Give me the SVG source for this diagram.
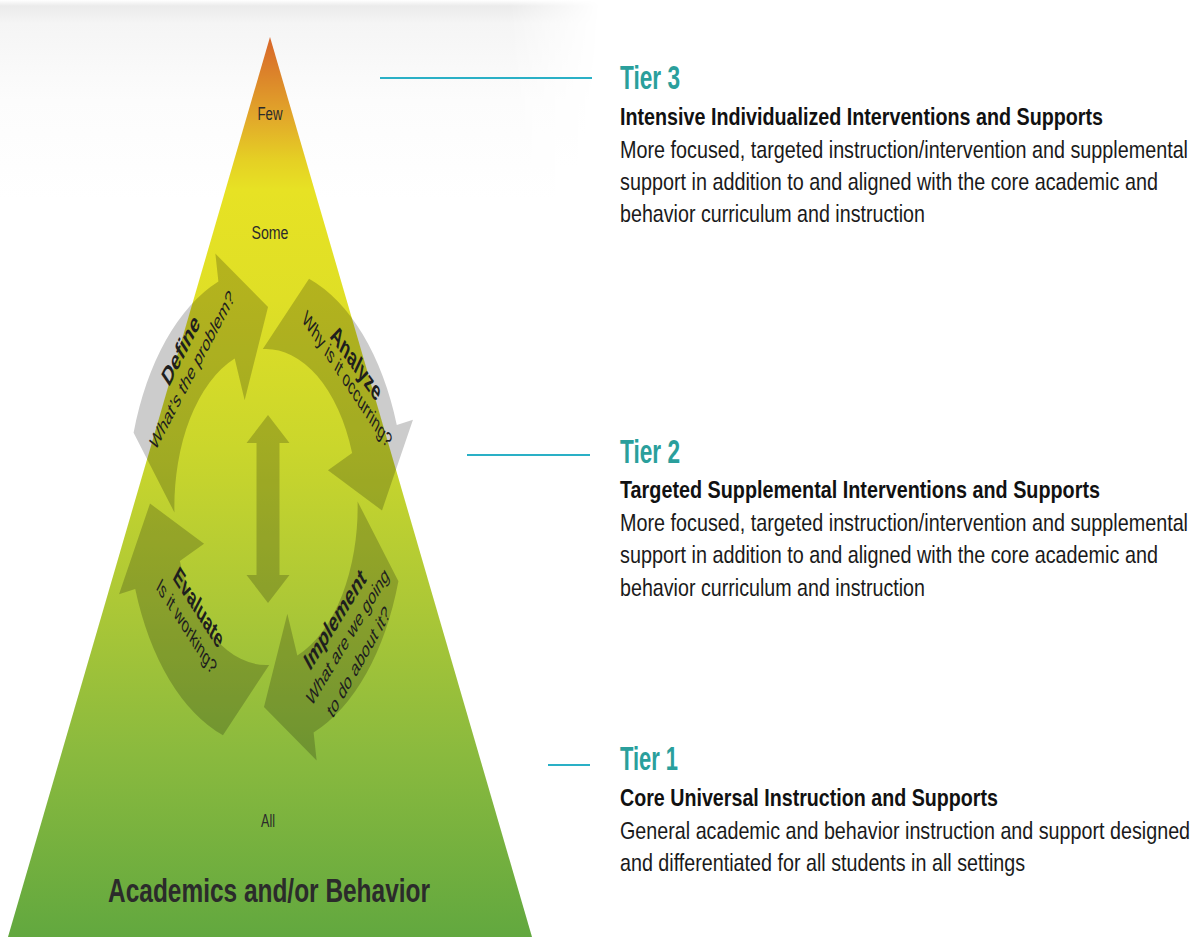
<svg xmlns="http://www.w3.org/2000/svg" xmlns:xlink="http://www.w3.org/1999/xlink" width="1200" height="937" viewBox="0 0 1200 937">
<defs>
<style>
.f{font-family:"Liberation Sans",Arial,Helvetica,sans-serif}
.lbl{fill:#2b2b2b}
.ct{fill:#1e1e1e}
.b{font-weight:bold}
.ov{fill:#000;fill-opacity:0.2}
.tier{fill:#2a9f9c;font-weight:bold;font-size:33px}
.hd{fill:#111;font-weight:bold;font-size:23px}
.bd{fill:#1a1a1a;font-size:24px}
.con{stroke:#2ab0c6;stroke-width:2;fill:none}
</style>
<linearGradient id="pyr" x1="0" y1="37" x2="0" y2="937" gradientUnits="userSpaceOnUse">
<stop offset="0" stop-color="#d8662a"/>
<stop offset="0.042" stop-color="#dc842a"/>
<stop offset="0.092" stop-color="#e2aa2a"/>
<stop offset="0.137" stop-color="#e5d024"/>
<stop offset="0.17" stop-color="#e7e224"/>
<stop offset="0.292" stop-color="#dfdf26"/>
<stop offset="0.458" stop-color="#cad62c"/>
<stop offset="0.626" stop-color="#adc836"/>
<stop offset="0.792" stop-color="#8bba3e"/>
<stop offset="1" stop-color="#62a83f"/>
</linearGradient>
<linearGradient id="shade" x1="0" y1="0" x2="0" y2="1">
<stop offset="0" stop-color="#ffffff"/>
<stop offset="0.03" stop-color="#ebebeb"/>
<stop offset="0.12" stop-color="#f5f5f5"/>
<stop offset="0.5" stop-color="#fcfcfc"/>
<stop offset="1" stop-color="#ffffff"/>
</linearGradient>
<linearGradient id="hfade" x1="0" y1="0" x2="1" y2="0">
<stop offset="0" stop-color="#fff"/>
<stop offset="0.85" stop-color="#fff"/>
<stop offset="1" stop-color="#000"/>
</linearGradient>
<mask id="shmask" maskUnits="userSpaceOnUse" x="0" y="0" width="600" height="200">
<rect x="0" y="0" width="600" height="200" fill="url(#hfade)"/>
</mask>
<path id="cyc" d="M -157.9,5.5 L -228.3,-74.2 A 240 240 0 0 1 -82.1,-225.5 L -87.3,-253.4 L 3.5,-200 L -36.8,-106.8 L -54.0,-148.5 A 158 158 0 0 0 -157.9,5.5 Z"/>
</defs>
<rect width="1200" height="937" fill="#ffffff"/>
<rect x="0" y="0" width="600" height="200" fill="url(#shade)" mask="url(#shmask)"/>

<g id="pyramid">
<polygon points="270,37 532,937 8,937" fill="url(#pyr)"/>
<text class="f lbl" x="270" y="120" font-size="18" text-anchor="middle" textLength="25" lengthAdjust="spacingAndGlyphs">Few</text>
<text class="f lbl" x="270" y="239" font-size="18" text-anchor="middle" textLength="37" lengthAdjust="spacingAndGlyphs">Some</text>
<text class="f lbl" x="268" y="827" font-size="18" text-anchor="middle" textLength="14" lengthAdjust="spacingAndGlyphs">All</text>
<g transform="translate(269,902) scale(0.74,1)">
<text class="f lbl b" x="0" y="0" font-size="34" text-anchor="middle" textLength="435" lengthAdjust="spacingAndGlyphs">Academics and/or Behavior</text>
</g>
</g>

<g id="cycle" transform="translate(266,507) scale(0.58,1)">
<g id="define">
<use xlink:href="#cyc" class="ov"/>
<text class="f ct b" font-size="27" text-anchor="middle" textLength="84" lengthAdjust="spacingAndGlyphs" transform="translate(-140,-151) rotate(-49)">Define</text>
<text class="f ct" font-size="22" text-anchor="middle" textLength="205" lengthAdjust="spacingAndGlyphs" transform="translate(-122,-132) rotate(-48)">What’s the problem?</text>
</g>
<g id="analyze">
<use xlink:href="#cyc" class="ov" transform="rotate(90)"/>
<text class="f ct b" font-size="27" text-anchor="middle" textLength="104" lengthAdjust="spacingAndGlyphs" transform="translate(150,-137) rotate(39)">Analyze</text>
<text class="f ct" font-size="22" text-anchor="middle" textLength="196" lengthAdjust="spacingAndGlyphs" transform="translate(135,-122) rotate(41)">Why is it occurring?</text>
</g>
<g id="implement">
<use xlink:href="#cyc" class="ov" transform="rotate(180)"/>
<text class="f ct b" font-size="27" text-anchor="middle" textLength="134" lengthAdjust="spacingAndGlyphs" transform="translate(125,119) rotate(-43)">Implement</text>
<text class="f ct" font-size="22" text-anchor="middle" textLength="187" lengthAdjust="spacingAndGlyphs" transform="translate(146,135) rotate(-44)">What are we going</text>
<text class="f ct" font-size="22" text-anchor="middle" textLength="145" lengthAdjust="spacingAndGlyphs" transform="translate(165,160) rotate(-46)">to do about it?</text>
</g>
<g id="evaluate">
<use xlink:href="#cyc" class="ov" transform="rotate(270)"/>
<text class="f ct b" font-size="26" text-anchor="middle" textLength="107" lengthAdjust="spacingAndGlyphs" transform="translate(-122,107) rotate(42)">Evaluate</text>
<text class="f ct" font-size="22" text-anchor="middle" textLength="131" lengthAdjust="spacingAndGlyphs" transform="translate(-142,125) rotate(42)">Is it working?</text>
</g>
</g>

<g id="double-arrow">
<path class="ov" d="M268,415 L289.5,443 L279.5,443 L279.5,575 L289.5,575 L268,603 L246.5,575 L256.5,575 L256.5,443 L246.5,443 Z"/>
</g>

<g id="connectors">
<line class="con" x1="380" y1="78" x2="592" y2="78"/>
<line class="con" x1="467" y1="455" x2="590" y2="455"/>
<line class="con" x1="548" y1="765" x2="590" y2="765"/>
</g>

<g id="tier3">
<g transform="translate(620,0) scale(0.7,1)"><text class="f tier" x="0" y="89" textLength="85.7" lengthAdjust="spacingAndGlyphs">Tier 3</text></g>
<g transform="translate(620,0) scale(0.75,1)"><text class="f hd" x="0" y="125" textLength="644" lengthAdjust="spacingAndGlyphs">Intensive Individualized Interventions and Supports</text></g>
<g transform="translate(620,0) scale(0.825,1)">
<text class="f bd" x="0" y="158" textLength="688.5" lengthAdjust="spacingAndGlyphs">More focused, targeted instruction/intervention and supplemental</text>
<text class="f bd" x="0" y="190" textLength="652" lengthAdjust="spacingAndGlyphs">support in addition to and aligned with the core academic and</text>
<text class="f bd" x="0" y="222" textLength="369.7" lengthAdjust="spacingAndGlyphs">behavior curriculum and instruction</text>
</g>
</g>
<g id="tier2">
<g transform="translate(620,0) scale(0.7,1)"><text class="f tier" x="0" y="463" textLength="85.7" lengthAdjust="spacingAndGlyphs">Tier 2</text></g>
<g transform="translate(620,0) scale(0.75,1)"><text class="f hd" x="0" y="498" textLength="640" lengthAdjust="spacingAndGlyphs">Targeted Supplemental Interventions and Supports</text></g>
<g transform="translate(620,0) scale(0.825,1)">
<text class="f bd" x="0" y="531" textLength="688.5" lengthAdjust="spacingAndGlyphs">More focused, targeted instruction/intervention and supplemental</text>
<text class="f bd" x="0" y="563" textLength="652" lengthAdjust="spacingAndGlyphs">support in addition to and aligned with the core academic and</text>
<text class="f bd" x="0" y="596" textLength="369.7" lengthAdjust="spacingAndGlyphs">behavior curriculum and instruction</text>
</g>
</g>
<g id="tier1">
<g transform="translate(620,0) scale(0.7,1)"><text class="f tier" x="0" y="770" textLength="82.9" lengthAdjust="spacingAndGlyphs">Tier 1</text></g>
<g transform="translate(620,0) scale(0.75,1)"><text class="f hd" x="0" y="806" textLength="504" lengthAdjust="spacingAndGlyphs">Core Universal Instruction and Supports</text></g>
<g transform="translate(620,0) scale(0.825,1)">
<text class="f bd" x="0" y="839" textLength="691" lengthAdjust="spacingAndGlyphs">General academic and behavior instruction and support designed</text>
<text class="f bd" x="0" y="871" textLength="491" lengthAdjust="spacingAndGlyphs">and differentiated for all students in all settings</text>
</g>
</g>
</svg>
